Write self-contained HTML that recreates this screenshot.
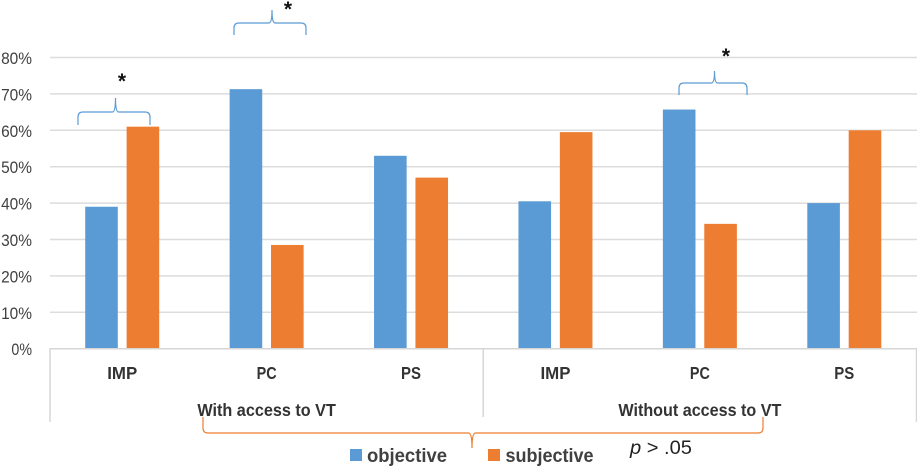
<!DOCTYPE html>
<html lang="en">
<head>
<meta charset="utf-8">
<title>Objective and subjective ratings with and without access to VT</title>
<style>
html,body{margin:0;padding:0;background:#fff;}
body{width:917px;height:469px;overflow:hidden;}
svg{display:block;font-family:"Liberation Sans",sans-serif;filter:blur(0.3px);}
.brace{fill:none;stroke-width:1.2;}
</style>
</head>
<body>
<svg id="chart" width="917" height="469" viewBox="0 0 917 469" xmlns="http://www.w3.org/2000/svg">
  <g id="grid"></g>
  <g id="yticks"></g>
  <g id="bars"></g>
  <g id="axis"></g>
  <g id="cats"></g>
  <g id="groups"></g>

  <path class="brace" stroke="#5b9bd5" d="M78 125 V117 Q78 112 83 112 H112.5 Q115.5 112 115.5 98 Q115.5 112 118.5 112 H145 Q150 112 150 117 V125"/>
  <path class="brace" stroke="#5b9bd5" d="M234 35 V28 Q234 23 239 23 H269 Q272 23 272 10 Q272 23 275 23 H301 Q306 23 306 28 V35"/>
  <path class="brace" stroke="#5b9bd5" d="M679 95 V88 Q679 83 684 83 H711.5 Q714.5 83 714.5 71 Q714.5 83 717.5 83 H742 Q747 83 747 88 V95"/>
  <path class="brace" stroke="#ed7d31" d="M203 417 V428 Q203 433 208 433 H468.5 Q472 433 472 448 Q472 433 475.5 433 H758 Q763 433 763 428 V417"/>

  <text x="122" y="88" font-size="21" font-weight="700" text-anchor="middle" fill="#111">*</text>
  <text x="288" y="16" font-size="21" font-weight="700" text-anchor="middle" fill="#111">*</text>
  <text x="726" y="63" font-size="21" font-weight="700" text-anchor="middle" fill="#111">*</text>

  <g>
    <rect x="350" y="449" width="12" height="12" fill="#5b9bd5"/>
    <text x="367" y="462" font-size="19" font-weight="700" fill="#404040" textLength="80" lengthAdjust="spacingAndGlyphs">objective</text>
    <rect x="488" y="449" width="12" height="12" fill="#ed7d31"/>
    <text x="505.5" y="462" font-size="19" font-weight="700" fill="#404040" textLength="88" lengthAdjust="spacingAndGlyphs">subjective</text>
  </g>
  <text x="630" y="454" font-size="19" fill="#222" textLength="62" lengthAdjust="spacingAndGlyphs"><tspan font-style="italic">p</tspan> &gt; .05</text>
</svg>
<script>
const categories = ["IMP", "PC", "PS", "IMP", "PC", "PS"];
const groupLabels = ["With access to VT", "Without access to VT"];
const objectiveValues = [39, 71.3, 53, 40.5, 65.7, 40];
const subjectiveValues = [61, 28.5, 47, 59.5, 34.3, 60];
const yTickValues = [0, 10, 20, 30, 40, 50, 60, 70, 80];

const NS = "http://www.w3.org/2000/svg";
const plotLeft = 50, plotRight = 916.5, baseY = 348.7, pxPerUnit = 3.64;
const barWidth = 32.6, barGap = 8.8;

function yScale(v) { return baseY - v * pxPerUnit; }
function bandWidth() { return (plotRight - plotLeft) / categories.length; }
function xCenter(i) { return plotLeft + bandWidth() * (i + 0.5); }
function make(tag, attrs) {
  const el = document.createElementNS(NS, tag);
  for (const k in attrs) el.setAttribute(k, attrs[k]);
  return el;
}

const gridG = document.getElementById("grid");
const tickG = document.getElementById("yticks");
yTickValues.forEach(function (v) {
  if (v > 0) {
    const line = make("line", { x1: plotLeft, x2: 917, y1: yScale(v), y2: yScale(v), stroke: "#dcdcdc", "stroke-width": 1.5 });
    
    
    gridG.appendChild(line);
  }
  const label = v + "%";
  const t = make("text", {
    x: 32 - (label.length * 10.3), y: yScale(v) + 6.5, "font-size": 17, fill: "#404040",
    textLength: label.length * 10.3, lengthAdjust: "spacingAndGlyphs"
  });
  
  
  t.textContent = label;
  tickG.appendChild(t);
});

const barsG = document.getElementById("bars");
function drawSeries(values, color, offset, name) {
  values.forEach(function (v, i) {
    const r = make("rect", {
      x: xCenter(i) + offset, y: yScale(v), width: barWidth, height: baseY - yScale(v), fill: color
    });
    
    
    barsG.appendChild(r);
  });
}
drawSeries(objectiveValues, "#5b9bd5", -(barGap / 2 + barWidth), "bar-objective");
drawSeries(subjectiveValues, "#ed7d31", barGap / 2, "bar-subjective");

const axisG = document.getElementById("axis");
const axisLine = make("line", { x1: plotLeft - 0.5, x2: 917, y1: baseY, y2: baseY, stroke: "#d6d6d6", "stroke-width": 1.5 });


axisG.appendChild(axisLine);
[[0, 422], [3, 417], [6, 422]].forEach(function (s) {
  const x = plotLeft + bandWidth() * s[0];
  const sep = make("line", { x1: x, x2: x, y1: baseY, y2: s[1], stroke: "#d6d6d6", "stroke-width": 1.5 });
  
  
  axisG.appendChild(sep);
});

const catG = document.getElementById("cats");
categories.forEach(function (c, i) {
  const w = c.length * 10;
  const t = make("text", {
    x: xCenter(i) - w / 2, y: 379, "font-size": 17.5, "font-weight": 700, fill: "#333",
    textLength: w, lengthAdjust: "spacingAndGlyphs"
  });
  
  
  t.textContent = c;
  catG.appendChild(t);
});

const groupG = document.getElementById("groups");
groupLabels.forEach(function (g, i) {
  const w = g.length * 8.15;
  const t = make("text", {
    x: xCenter(i * 3 + 1) - w / 2, y: 416, "font-size": 17.5, "font-weight": 700, fill: "#333",
    textLength: w, lengthAdjust: "spacingAndGlyphs"
  });
  
  
  t.textContent = g;
  groupG.appendChild(t);
});
</script>
</body>
</html>
